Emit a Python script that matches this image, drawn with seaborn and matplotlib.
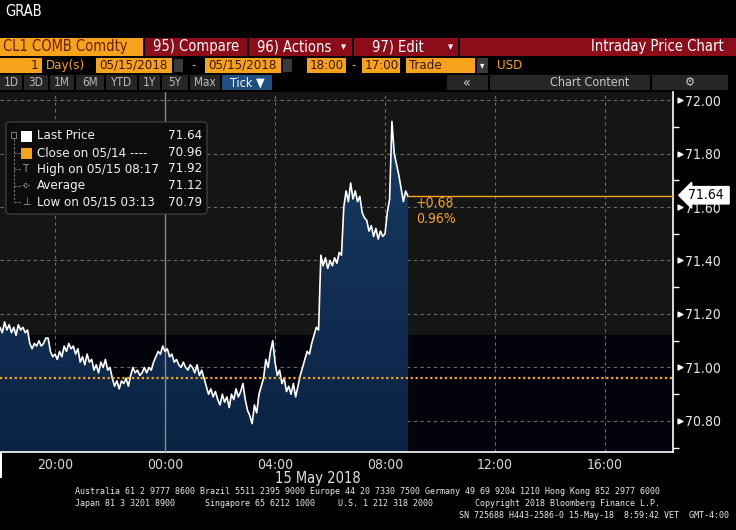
import numpy as np
import pandas as pd
import matplotlib
matplotlib.use("Agg")
import matplotlib.pyplot as plt
import matplotlib.dates as mdates
from matplotlib.patches import Rectangle, FancyBboxPatch
from matplotlib.colors import LinearSegmentedColormap
from matplotlib import font_manager
import seaborn as sns

# ---- data (CL1 COMB Comdty, 5-minute samples) ----
session_start = "2018-05-14 18:00"
prices = [
    # 18:00
    71.15, 71.13, 71.17, 71.14, 71.16, 71.13, 71.15, 71.12, 71.16, 71.14, 71.15, 71.13,
    # 19:00
    71.14, 71.09, 71.07, 71.09, 71.08, 71.10, 71.08, 71.09, 71.11, 71.11, 71.06, 71.04,
    # 20:00
    71.05, 71.03, 71.06, 71.04, 71.08, 71.06, 71.09, 71.07, 71.08, 71.05, 71.07, 71.02,
    # 21:00
    71.04, 71.01, 71.05, 71.02, 71.03, 70.99, 71.01, 70.98, 71.02, 71.00, 71.03, 70.99,
    # 22:00
    71.00, 70.96, 70.93, 70.95, 70.92, 70.95, 70.94, 70.96, 70.93, 70.97, 71.00, 70.98,
    # 23:00
    70.99, 70.97, 70.98, 71.00, 70.98, 71.00, 70.99, 71.02, 71.04, 71.06, 71.05, 71.08,
    # 00:00
    71.06, 71.07, 71.04, 71.05, 71.02, 71.03, 71.01, 71.00, 71.02, 71.00, 70.99, 71.01,
    # 01:00
    71.00, 70.98, 71.01, 70.97, 70.99, 70.96, 70.93, 70.90, 70.92, 70.89, 70.91, 70.88,
    # 02:00
    70.86, 70.90, 70.87, 70.89, 70.85, 70.90, 70.88, 70.92, 70.89, 70.91, 70.94, 70.88,
    # 03:00
    70.84, 70.82, 70.79, 70.86, 70.83, 70.90, 70.93, 70.96, 71.03, 71.00, 71.06, 71.10,
    # 04:00
    71.02, 70.97, 70.99, 70.94, 70.96, 70.91, 70.93, 70.90, 70.94, 70.89, 70.93, 70.97,
    # 05:00
    71.00, 71.03, 71.06, 71.05, 71.09, 71.12, 71.15, 71.14, 71.42, 71.38, 71.41, 71.37,
    # 06:00
    71.40, 71.38, 71.41, 71.39, 71.43, 71.42, 71.60, 71.66, 71.62, 71.69, 71.63, 71.66,
    # 07:00
    71.62, 71.64, 71.58, 71.56, 71.55, 71.51, 71.53, 71.49, 71.52, 71.48, 71.51, 71.49,
    # 08:00
    71.50, 71.58, 71.63, 71.92, 71.80, 71.76, 71.72, 71.67, 71.62, 71.66, 71.64,
]
close_prev = 70.96
average = 71.12
last_price = 71.64
change = "+0.68"
change_pct = "0.96%"
y_ticks = [70.80, 71.00, 71.20, 71.40, 71.60, 71.80, 72.00]
legend_rows = [
    ("Last Price", "71.64"),
    ("Close on 05/14 ----", "70.96"),
    ("High on 05/15 08:17", "71.92"),
    ("Average", "71.12"),
    ("Low on 05/15 03:13", "70.79"),
]

times = pd.date_range(session_start, periods=len(prices), freq="5min")
df = pd.DataFrame({"time": times, "price": prices})

# ---- style ----
sns.set_style("dark")
available = {f.name for f in font_manager.fontManager.ttflist}
narrow = "Liberation Sans Narrow" if "Liberation Sans Narrow" in available else "DejaVu Sans"
plt.rcParams["font.family"] = [narrow, "DejaVu Sans"]
plt.rcParams["font.stretch"] = "condensed"

ORANGE = "#f7a21b"
RED = "#8c0c19"
W, H = 736, 530


def fx(x):
    return x / W


def fy(y):
    return 1 - y / H


fig = plt.figure(figsize=(7.36, 5.30), dpi=100, facecolor="black")


def box(x0, y0, x1, y1, color, **kw):
    fig.add_artist(Rectangle((fx(x0), fy(y1)), (x1 - x0) / W, (y1 - y0) / H,
                             transform=fig.transFigure, facecolor=color,
                             edgecolor="none", **kw))


def text(x, y, s, color="white", size=9, ha="left", **kw):
    fig.text(fx(x), fy(y), s, color=color, fontsize=size, ha=ha, va="center", **kw)


# ---- header / toolbar ----
text(5, 12, "GRAB", size=10.5)

box(0, 38, 143, 56, ORANGE)
text(3, 47, "CL1 COMB Comdty", color="#6b1d00", size=10.5)
box(145, 38, 247, 56, RED)
text(196, 47, "95) Compare", size=10.5, ha="center")
box(249, 38, 352, 56, RED)
text(294, 47, "96) Actions", size=10.5, ha="center")
text(343, 47, "▾", size=8, ha="center")
box(354, 38, 458, 56, RED)
text(398, 47, "97) Edit", size=10.5, ha="center")
text(450, 47, "▾", size=8, ha="center")
box(460, 38, 736, 56, RED)
text(724, 47, "Intraday Price Chart", size=10.5, ha="right")

box(0, 58, 42, 73, ORANGE)
text(38, 65.5, "1", color="#3a1500", size=9.5, ha="right")
text(46, 65.5, "Day(s)", color=ORANGE, size=9.5)
box(96, 58, 172, 73, ORANGE)
text(99, 65.5, "05/15/2018", color="#3a1500", size=9.5)
box(174, 59, 183, 72, "#3a3a3a")
text(194, 65.5, "-", color=ORANGE, size=9.5, ha="center")
box(205, 58, 281, 73, ORANGE)
text(208, 65.5, "05/15/2018", color="#3a1500", size=9.5)
box(283, 59, 292, 72, "#3a3a3a")
box(307, 58, 346, 73, ORANGE)
text(310, 65.5, "18:00", color="#3a1500", size=9.5)
text(354, 65.5, "-", color=ORANGE, size=9.5, ha="center")
box(362, 58, 400, 73, ORANGE)
text(365, 65.5, "17:00", color="#3a1500", size=9.5)
box(406, 58, 475, 73, ORANGE)
text(409, 65.5, "Trade", color="#3a1500", size=9.5)
box(477, 58, 488, 73, "#3a3a3a")
text(482.5, 65.5, "▾", color="white", size=7, ha="center")
text(497, 65.5, "USD", color=ORANGE, size=9.5)

buttons = [("1D", 0, 22), ("3D", 24, 48), ("1M", 50, 74), ("6M", 76, 104),
           ("YTD", 106, 137), ("1Y", 139, 160), ("5Y", 162, 188), ("Max", 190, 220)]
for label, a, b in buttons:
    box(a, 75, b, 90, "#262626")
    text((a + b) / 2, 82.5, label, color="#b8b8b8", size=8.5, ha="center")
box(222, 75, 272, 90, "#1d4f80")
text(247, 82.5, "Tick ▼", size=9, ha="center")
box(447, 75, 488, 90, "#262626")
text(467, 82.5, "«", color="#d0d0d0", size=10, ha="center")
box(490, 75, 650, 90, "#262626")
text(550, 82.5, "Chart Content", color="#c8c8c8", size=9)
box(652, 75, 728, 90, "#262626")
text(690, 82.5, "⚙", color="#c8c8c8", size=9, ha="center", family="DejaVu Sans")

# ---- chart axes ----
ax = fig.add_axes([0, fy(452), 673 / W, 360 / H])
ax.set_facecolor("black")
x_lo = pd.Timestamp(session_start)
x_hi = x_lo + pd.Timedelta(hours=24.47)
y_lo, y_hi = 70.684, 72.030

ax.axhspan(average, y_hi, color="#151515", zorder=0, lw=0)
ax.axhspan(y_lo, average, color="#03040b", zorder=0, lw=0)

# gradient fill under the price line
area = ax.fill_between(df["time"], df["price"], y_lo, facecolor="none", edgecolor="none")
grad = np.linspace(0, 1, 256).reshape(-1, 1)
cmap = LinearSegmentedColormap.from_list("fill", ["#0b2343", "#183b64"])
im = ax.imshow(grad, cmap=cmap, aspect="auto", origin="lower", zorder=2,
               extent=[mdates.date2num(x_lo), mdates.date2num(x_hi), y_lo, 71.95])
im.set_clip_path(area.get_paths()[0], transform=ax.transData)

# grid
for yv in y_ticks:
    ax.axhline(yv, color="#6a6a6a", lw=0.8, ls=(0, (3, 3)), zorder=1)
for h in [20, 28, 32, 36, 40]:
    ax.axvline(x_lo + pd.Timedelta(hours=h - 18), color="#6a6a6a", lw=0.8,
               ls=(0, (3, 3)), zorder=1)
ax.axvline(pd.Timestamp("2018-05-15 00:00"), color="#8a8a8a", lw=1.0, zorder=3)

sns.lineplot(data=df, x="time", y="price", ax=ax, color="white", lw=1.2, zorder=5)

ax.axhline(close_prev, color=ORANGE, lw=1.6, ls=(0, (1, 1.2)), zorder=6)
ax.hlines(last_price, df["time"].iloc[-1], x_hi, color=ORANGE, lw=1.0, zorder=6)

ax.set_xlim(x_lo, x_hi)
ax.set_ylim(y_lo, y_hi)
ax.set_xlabel("")
ax.set_ylabel("")
ax.grid(False)

ax.xaxis.set_major_locator(mdates.HourLocator(byhour=[0, 4, 8, 12, 16, 20]))
ax.xaxis.set_minor_locator(mdates.HourLocator(byhour=range(0, 24, 2)))
ax.xaxis.set_major_formatter(mdates.DateFormatter("%H:%M"))
ax.tick_params(axis="x", which="both", colors="white", labelcolor="#d8d8d8",
               labelsize=10, length=5, width=1, direction="in", pad=4)

ax.yaxis.tick_right()
ax.set_yticks(y_ticks)
ax.set_yticklabels([f"{v:.2f}" for v in y_ticks])
ax.set_yticks(np.arange(70.7, 72.01, 0.1), minor=True)
ax.tick_params(axis="y", which="major", colors="white", labelcolor="#e8e8e8",
               labelsize=10, length=0, pad=9)
ax.tick_params(axis="y", which="minor", colors="white", length=4, width=1, direction="out")
ax.scatter([1.010] * len(y_ticks), y_ticks, marker=">", s=12, color="white",
           transform=ax.get_yaxis_transform(), clip_on=False, zorder=7)

for side in ["left", "top"]:
    ax.spines[side].set_visible(False)
for side in ["right", "bottom"]:
    ax.spines[side].set_color("white")
    ax.spines[side].set_linewidth(1.2)

# last price flag on the axis (covers the top of the 71.60 label, as in the terminal)
ax.text(1.022, last_price + 0.004, f"{last_price:.2f} ", transform=ax.get_yaxis_transform(),
        color="black", fontsize=10, va="center", ha="left", zorder=8, clip_on=False,
        bbox=dict(boxstyle="larrow,pad=0.12", fc="white", ec="white"))

text(416, 203, change, color=ORANGE, size=10)
text(416, 219, change_pct, color=ORANGE, size=10)

# ---- legend panel ----
fig.add_artist(FancyBboxPatch((fx(6), fy(214)), 201 / W, 92 / H,
                              boxstyle="round,pad=0,rounding_size=0.006",
                              transform=fig.transFigure, facecolor="#0c0c0c",
                              edgecolor="#3c3c3c", lw=1, zorder=10))
fig.add_artist(plt.Line2D([fx(14), fx(14)], [fy(139), fy(202)], transform=fig.transFigure,
                          color="#777777", lw=0.8, ls=(0, (2, 1.5)), zorder=11))
box(11, 132, 17, 139, "#777777", zorder=11)
box(12, 133, 16, 138, "#0c0c0c", zorder=11)
row_y = [136, 153, 169, 186, 202]
for i, ((label, val), yy) in enumerate(zip(legend_rows, row_y)):
    if i > 0:
        fig.add_artist(plt.Line2D([fx(14), fx(21)], [fy(yy), fy(yy)], transform=fig.transFigure,
                                  color="#777777", lw=0.8, ls=(0, (2, 1.5)), zorder=11))
    text(37, yy, label, color="#f0f0f0", size=9.5, zorder=12)
    text(168, yy, val, color="#f0f0f0", size=9.5, zorder=12)
box(21, 131, 32, 142, "white", zorder=12)
box(21, 148, 32, 159, ORANGE, zorder=12)
text(26.5, 169, "T", color="#999999", size=8, ha="center", zorder=12)
text(26.5, 186, "-o-", color="#999999", size=5.5, ha="center", zorder=12)
text(26.5, 202, "⊥", color="#999999", size=8, ha="center", zorder=12, family="DejaVu Sans")

# ---- footer ----
box(0, 452, 1.5, 478, "white")
text(318, 478, "15 May 2018", color="#e0e0e0", size=10.5, ha="center")
mono = dict(family="DejaVu Sans Mono", size=6, color="#e8e8e8")
text(75, 491, "Australia 61 2 9777 8600 Brazil 5511 2395 9000 Europe 44 20 7330 7500 "
     "Germany 49 69 9204 1210 Hong Kong 852 2977 6000", **mono)
text(75, 503, "Japan 81 3 3201 8900", **mono)
text(205, 503, "Singapore 65 6212 1000", **mono)
text(338, 503, "U.S. 1 212 318 2000", **mono)
text(475, 503, "Copyright 2018 Bloomberg Finance L.P.", **mono)
text(729, 515, "SN 725688 H443-2586-0 15-May-18  8:59:42 VET  GMT-4:00", ha="right", **mono)

fig.savefig("out.png", dpi=100, facecolor="black")
